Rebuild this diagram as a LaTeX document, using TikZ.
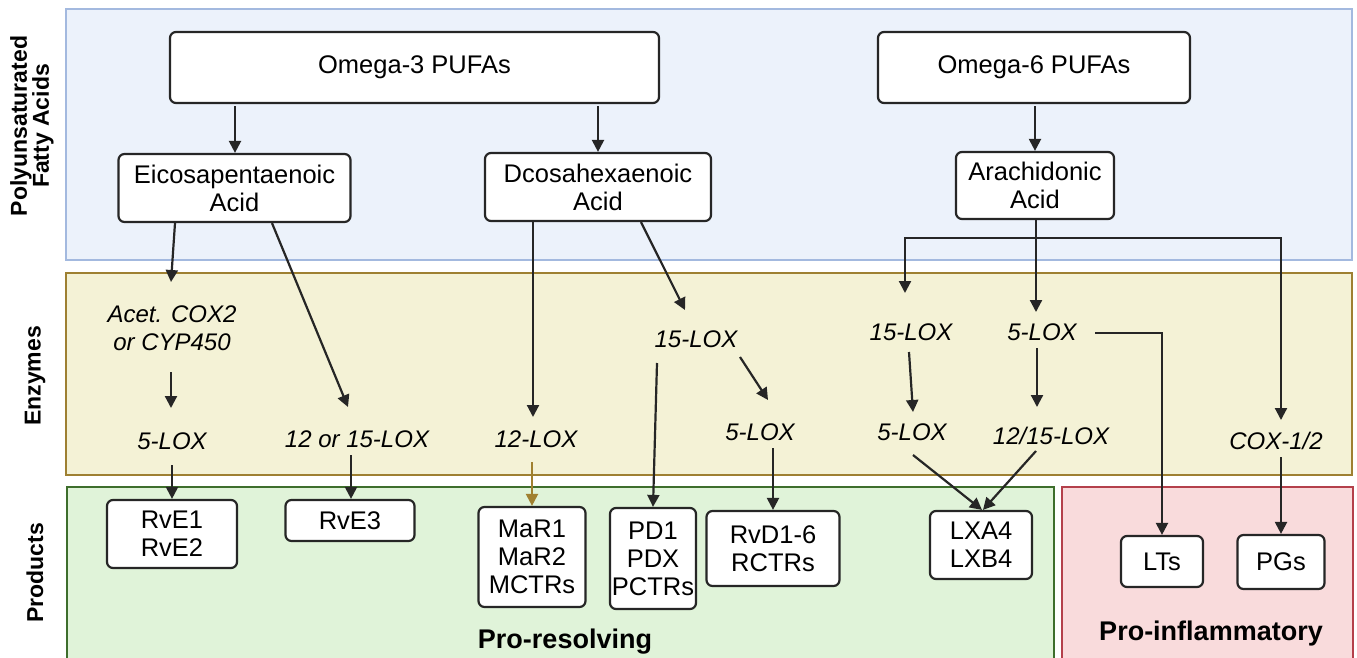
\documentclass[tikz,border=0pt]{standalone}
\usepackage{fontspec}
\setmainfont{Liberation Sans}
\usetikzlibrary{arrows.meta,calc}
\definecolor{bluefill}{HTML}{ECF2FB}
\definecolor{blueborder}{HTML}{A3B9DF}
\definecolor{yellowfill}{HTML}{F4F2D6}
\definecolor{yellowborder}{HTML}{9E8032}
\definecolor{greenfill}{HTML}{E0F3D9}
\definecolor{greenborder}{HTML}{3E6E2C}
\definecolor{redfill}{HTML}{F9DBDC}
\definecolor{redborder}{HTML}{B4404B}
\definecolor{arrowc}{HTML}{262626}
\definecolor{olivearrow}{HTML}{A08030}
\begin{document}
\begin{tikzpicture}[x=1pt,y=-1pt,
  panel/.style={line width=2pt},
  box/.style={draw=arrowc, line width=2.2pt, rounded corners=6pt, fill=white, align=center, inner sep=0pt, font=\fontsize{25.5}{28}\selectfont},
  enz/.style={font=\fontsize{24}{28}\selectfont\itshape, inner sep=0pt, align=center},
  rowlab/.style={font=\fontsize{23}{22}\selectfont\bfseries, rotate=90, align=center, inner sep=0pt},
  grouplab/.style={font=\fontsize{27}{30}\selectfont\bfseries, inner sep=0pt, anchor=base},
  arr/.style={draw=arrowc, line width=2.2pt, -{Triangle[length=12pt,width=12pt]}}
]
\useasboundingbox (0,0) rectangle (1357,658);
% panels
\path[panel, draw=blueborder, fill=bluefill] (66,9) rectangle (1352,260);
\path[panel, draw=yellowborder, fill=yellowfill] (66,273) rectangle (1352,475);
\path[panel, draw=greenborder, fill=greenfill] (67,487) rectangle (1054,670);
\path[panel, draw=redborder, fill=redfill] (1062,487) rectangle (1353,670);

% row labels
\node[rowlab] (rowpufa) at (32,126) {Polyunsaturated\\Fatty Acids};
\node[rowlab] (rowenz) at (35,376) {Enzymes};
\node[rowlab] (rowprod) at (35,573) {Products};
\node[grouplab] (prores) at (565,648) {Pro-resolving};
\node[grouplab] (proinf) at (1211,640) {Pro-inflammatory};

% top boxes
\node[box, minimum width=489pt, minimum height=71pt] (o3) at (414.5,67.5) {Omega-3 PUFAs};
\node[box, minimum width=312pt, minimum height=71pt] (o6) at (1034,67.5) {Omega-6 PUFAs};
\node[box, minimum width=232pt, minimum height=68pt] (epa) at (234.5,188) {Eicosapentaenoic\\Acid};
\node[box, minimum width=226pt, minimum height=68pt] (dha) at (598,187) {Dcosahexaenoic\\Acid};
\node[box, minimum width=158pt, minimum height=67pt] (aa) at (1035,185.5) {Arachidonic\\Acid};

% enzymes
\node[enz] (accox) at (172,328) {Acet. COX2\\or CYP450};
\node[enz] (lox5a) at (172,441) {5-LOX};
\node[enz] (lox1215a) at (357,439) {12 or 15-LOX};
\node[enz] (lox12b) at (536,439) {12-LOX};
\node[enz] (lox15b) at (696,339) {15-LOX};
\node[enz] (lox5b) at (760,432) {5-LOX};
\node[enz] (lox15c) at (911,332) {15-LOX};
\node[enz] (lox5c) at (1042,332) {5-LOX};
\node[enz] (lox5d) at (912,432) {5-LOX};
\node[enz] (lox1215c) at (1051,436) {12/15-LOX};
\node[enz] (cox) at (1276,441) {COX-1/2};

% products
\node[box, minimum width=130pt, minimum height=68pt] (rve12) at (172,534) {RvE1\\RvE2};
\node[box, minimum width=129pt, minimum height=41pt] (rve3) at (350,520.5) {RvE3};
\node[box, minimum width=107pt, minimum height=100pt] (mar) at (532,557) {MaR1\\MaR2\\MCTRs};
\node[box, minimum width=86pt, minimum height=101pt] (pd) at (653,558.5) {PD1\\PDX\\PCTRs};
\node[box, minimum width=133pt, minimum height=75pt] (rvd) at (773,548.5) {RvD1-6\\RCTRs};
\node[box, minimum width=102pt, minimum height=68pt] (lx) at (981,545) {LXA4\\LXB4};
\node[box, minimum width=82pt, minimum height=51pt] (lts) at (1162,561.5) {LTs};
\node[box, minimum width=87pt, minimum height=54pt] (pgs) at (1281,562) {PGs};

% arrows top
\draw[arr] ($(o3.south)+(-179.5,2)$) -- ($(epa.north)+(0.5,0)$);
\draw[arr] ($(o3.south)+(183.5,2)$) -- (dha.north);
\draw[arr] ($(o6.south)+(1,2)$) -- ($(aa.north)+(0,0)$);

% EPA branch
\draw[arr] ($(epa.south)+(-59.5,0)$) -- ($(accox)+(-1,-46)$);
\draw[arr] ($(epa.south)+(37.5,0)$) -- ($(lox1215a)+(-9,-32)$);
\draw[arr] ($(accox)+(-1,44)$) -- ($(lox5a)+(-1,-33)$);
\draw[arr] ($(lox5a)+(0,24)$) -- (rve12.north);
\draw[arr] ($(lox1215a)+(-6,16)$) -- ($(rve3.north)+(1,0)$);

% DHA branch
\draw[arr] ($(dha.south)+(-65,0)$) -- ($(lox12b)+(-3,-22)$);
\draw[arr] ($(dha.south)+(43,0)$) -- ($(lox15b)+(-11,-29)$);
\draw[arr] ($(lox15b)+(-39,24)$) -- (pd.north);
\draw[arr] ($(lox15b)+(44,18)$) -- ($(lox5b)+(8,-32)$);
\draw[arr] ($(lox5b)+(13,16)$) -- (rvd.north);
\draw[arr, draw=olivearrow] ($(lox12b)+(-4,23)$) -- (mar.north);

% AA branch
\coordinate (br) at ($(aa.south)+(1,18)$);
\draw[arr] ($(aa.south)+(1,0)$) -- ($(lox5c)+(-6,-20)$);
\draw[arr] (br) -| ($(lox15c)+(-6,-39)$);
\draw[arr] (br) -| ($(cox)+(5,-21)$);
\draw[arr] ($(lox15c)+(-2,20)$) -- ($(lox5d)+(1,-20)$);
\draw[arr] ($(lox5c)+(-5,16)$) -- ($(lox1215c)+(-14,-29)$);
\draw[arr] ($(lox5c)+(53,1)$) -| (lts.north);
\draw[arr] ($(cox)+(5,16)$) -- (pgs.north);
\draw[arr] ($(lox5d)+(1,23)$) -- ($(lx.north)+(1,0)$);
\draw[arr] ($(lox1215c)+(-15,15)$) -- ($(lx.north)+(2,0)$);
\end{tikzpicture}
\end{document}
